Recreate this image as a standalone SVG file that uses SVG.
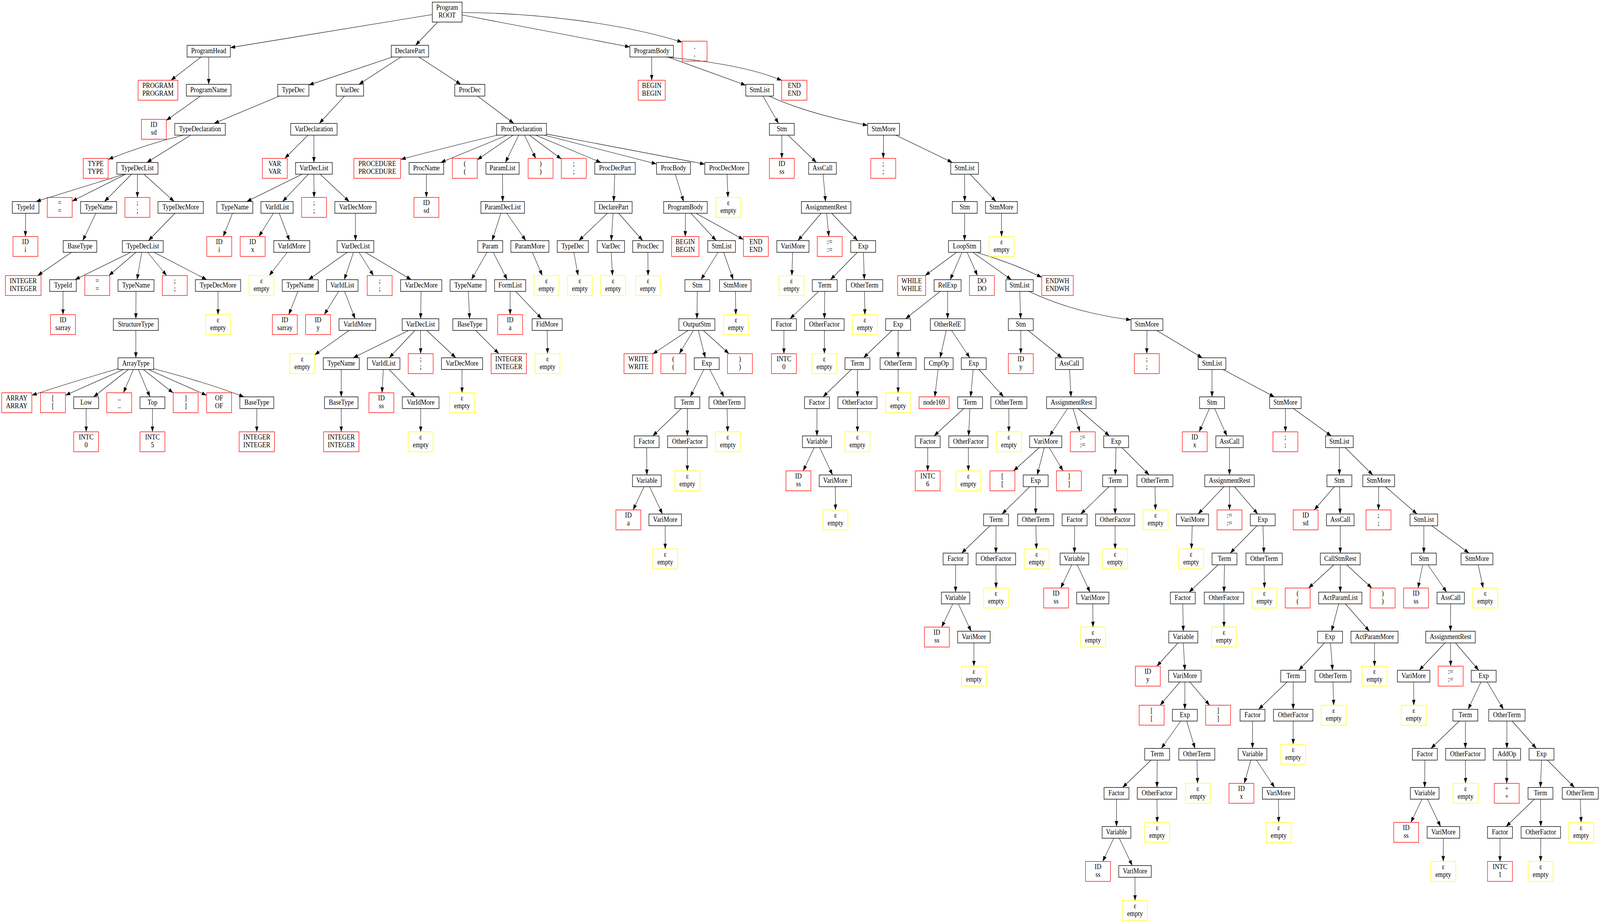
<svg xmlns="http://www.w3.org/2000/svg" width="4623" height="2363" viewBox="0 0 4623 2363" preserveAspectRatio="none">
<style>
svg{width:100vw;height:100vh;display:block}
rect{fill:none;stroke-width:1.4}
.b rect{stroke:#000}
.r rect{stroke:#f00}
.y rect{stroke:#ff0}
text{font-family:"Liberation Serif","Times New Roman",serif;font-size:18.3px;text-anchor:middle;fill:#000}
#edges path{stroke:#000;stroke-width:1.1;fill:none;marker-end:url(#ah)}
</style>
<defs><marker id="ah" markerUnits="userSpaceOnUse" markerWidth="15" markerHeight="11" refX="14" refY="5" orient="auto"><path d="M0,0 L14,5 L0,10 z" fill="#000"/></marker></defs>
<g id="edges">
<path d="M1249,37.2 L665.5,121.9"/>
<path d="M1264.6,56.5 L1200.6,116"/>
<path d="M1335,38.3 L1820,120.3"/>
<path d="M1335,32 C1550,33 1800,60 1971,108"/>
<path d="M581,146 L493.9,205.5"/>
<path d="M603,146 L603,216"/>
<path d="M1133.9,146 L892.5,217.6"/>
<path d="M1158.5,146 L1037,216"/>
<path d="M1210.5,146 L1331.5,216"/>
<path d="M1883,146 L1883,205.5"/>
<path d="M1929.8,146 L2155,218.2"/>
<path d="M1925,146 Q2150,165 2259,206"/>
<path d="M579.2,246 L480.5,308.3"/>
<path d="M807.1,246 L618.4,316"/>
<path d="M995.4,246 L922.6,316"/>
<path d="M1379.9,246 L1484.6,316"/>
<path d="M2204.6,246 L2249.4,316"/>
<path d="M2222,246 Q2330,290 2507,321"/>
<path d="M530,346 Q420,370 313,408"/>
<path d="M550.8,346 L424.2,416"/>
<path d="M890,346 L822.8,405.5"/>
<path d="M907,346 L907,416"/>
<path d="M1437,346 Q1300,375 1158,408"/>
<path d="M1465.8,346 L1273.3,416"/>
<path d="M1482.4,346 L1379,409"/>
<path d="M1498.8,346 L1460.3,416"/>
<path d="M1515.3,346 L1548,405.5"/>
<path d="M1529.7,346 L1622,407.2"/>
<path d="M1547.5,346 L1736.5,416"/>
<path d="M1572.9,346 L1897,419.8"/>
<path d="M1579,343.1 L2036.5,420.3"/>
<path d="M2259,346 L2259,405.5"/>
<path d="M2276.6,346 L2358.9,416"/>
<path d="M2553,346 L2552,405.5"/>
<path d="M2588.1,346 L2751.9,416"/>
<path d="M359,446 Q200,490 104,516"/>
<path d="M363.3,446 L208.5,515"/>
<path d="M380.2,446 L301.8,516"/>
<path d="M397,446 L397,505.5"/>
<path d="M415.8,446 L503.3,516"/>
<path d="M872.7,446 L712.8,516"/>
<path d="M891,446 L816.5,516"/>
<path d="M907,446 L907.5,505.5"/>
<path d="M925,446 L1009,516"/>
<path d="M1232,446 L1232,505.5"/>
<path d="M1452,446 L1452.5,516"/>
<path d="M1776.3,446 L1773.2,516"/>
<path d="M1951.2,446 L1975.3,516"/>
<path d="M2100.7,446 L2103.4,505.5"/>
<path d="M2378.1,446 L2385.4,516"/>
<path d="M2787,446 L2787.5,516"/>
<path d="M2803,446 L2877.5,516"/>
<path d="M74,546 L73.5,605.5"/>
<path d="M276.9,546 L239.1,616"/>
<path d="M505.6,546 L428.9,616"/>
<path d="M671.8,546 L645,605.5"/>
<path d="M789.9,546 L748,605.5"/>
<path d="M806.9,546 L836.6,616"/>
<path d="M1027,546 L1027,616"/>
<path d="M1447.1,546 L1421.9,616"/>
<path d="M1464.3,546 L1519.2,616"/>
<path d="M1754.9,546 L1672.6,616"/>
<path d="M1771.4,546 L1766.1,616"/>
<path d="M1787.4,546 L1857.1,616"/>
<path d="M1980.5,546 L1980,605.5"/>
<path d="M1996.2,546 L2069.3,616"/>
<path d="M2011,546 L2148,613.3"/>
<path d="M2372.6,546 L2305.4,616"/>
<path d="M2388.6,546 L2394.8,605.5"/>
<path d="M2403,546 L2478,616"/>
<path d="M2787.5,546 L2787,616"/>
<path d="M2893.5,546 L2894,605.5"/>
<path d="M206.4,646 L108.8,705.5"/>
<path d="M377.9,646 L216.6,716"/>
<path d="M392.8,646 L314.5,705.5"/>
<path d="M409.6,646 L395.9,716"/>
<path d="M426.4,646 L481.4,705.5"/>
<path d="M445.1,646 L597.4,716"/>
<path d="M829.9,646 L777.8,705.5"/>
<path d="M1003.1,646 L891.4,716"/>
<path d="M1021.3,646 L994.7,716"/>
<path d="M1037.5,646 L1079.2,705.5"/>
<path d="M1055.5,646 L1188.5,716"/>
<path d="M1406.9,646 L1362.1,716"/>
<path d="M1425.1,646 L1465.4,716"/>
<path d="M1538.2,646 L1566.8,705.5"/>
<path d="M1658.1,646 L1670.3,705.5"/>
<path d="M1766,646 L1769.8,705.5"/>
<path d="M1872,646 L1872.5,705.5"/>
<path d="M2074.5,646 L2025.5,716"/>
<path d="M2090.9,646 L2118.6,716"/>
<path d="M2290.4,646 L2288,705.5"/>
<path d="M2477.4,646 L2399.7,716"/>
<path d="M2494.6,646 L2497.4,716"/>
<path d="M2764,646 L2673,705.5"/>
<path d="M2779.7,646 L2745.4,716"/>
<path d="M2794.5,646 L2824.3,705.5"/>
<path d="M2810.9,646 L2922.2,716"/>
<path d="M2821,646 Q2930,675 3010,710"/>
<path d="M182,746 L182,805.5"/>
<path d="M393,746 L392.5,816"/>
<path d="M630,746 L630,805.5"/>
<path d="M860.8,746 L834.3,805.5"/>
<path d="M978.5,746 L936.9,805.5"/>
<path d="M995.5,746 L1026,816"/>
<path d="M1216.7,746 L1215.3,816"/>
<path d="M1353.3,746 L1356.8,816"/>
<path d="M1474,746 L1474,805.5"/>
<path d="M1490,746 L1565,816"/>
<path d="M2014.8,746 L2013.7,816"/>
<path d="M2124.8,746 L2126,805.5"/>
<path d="M2365.3,746 L2282.7,816"/>
<path d="M2383,746 L2382,816"/>
<path d="M2498,746 L2499,805.5"/>
<path d="M2716.6,746 L2616.5,816"/>
<path d="M2738,746 L2738,816"/>
<path d="M2946.5,746 L2949,816"/>
<path d="M2973,746 Q3100,800 3268,819"/>
<path d="M392.5,846 L392.5,916"/>
<path d="M1008.7,846 L909.5,908.4"/>
<path d="M1180.6,846 L1020.4,916"/>
<path d="M1199,846 L1124.5,916"/>
<path d="M1215,846 L1215.5,905.5"/>
<path d="M1233,846 L1317,916"/>
<path d="M1374.4,846 L1441.3,905.5"/>
<path d="M1581,846 L1582,905.5"/>
<path d="M1988.2,846 L1886,906.4"/>
<path d="M2003.3,846 L1962.8,905.5"/>
<path d="M2017.8,846 L2037.7,916"/>
<path d="M2032.2,846 L2106.3,905.5"/>
<path d="M2265,846 L2265,905.5"/>
<path d="M2382,846 L2382,905.5"/>
<path d="M2577.4,846 L2495.1,916"/>
<path d="M2595,846 L2595,916"/>
<path d="M2734.2,846 L2716.3,916"/>
<path d="M2749.3,846 L2802.2,916"/>
<path d="M2949.5,846 L2949.5,905.5"/>
<path d="M2970.5,846 L3068.5,916"/>
<path d="M3314,846 L3313.5,905.5"/>
<path d="M3342.2,846 L3473.8,916"/>
<path d="M341,944 Q200,980 92,1012"/>
<path d="M356.6,946 L189,1012"/>
<path d="M371,946 L270.5,1016"/>
<path d="M385.3,946 L356.7,1005.5"/>
<path d="M399.7,946 L433.3,1016"/>
<path d="M414.1,946 L500.5,1006"/>
<path d="M428.6,946 L597,1012"/>
<path d="M444,944 Q600,980 705,1016"/>
<path d="M986,946 L986,1016"/>
<path d="M1107.5,946 L1103.7,1005.5"/>
<path d="M1124.6,946 L1199.5,1016"/>
<path d="M1335,946 L1335,1005.5"/>
<path d="M2033.6,946 L1994.4,1016"/>
<path d="M2050.8,946 L2091.7,1016"/>
<path d="M2460,946 L2378,1016"/>
<path d="M2477.5,946 L2477.5,1016"/>
<path d="M2595,946 L2595,1005.5"/>
<path d="M2710.5,946 L2701,1016"/>
<path d="M2811.9,946 L2804.6,1016"/>
<path d="M2828.7,946 L2899.8,1016"/>
<path d="M3090.4,946 L3094.6,1016"/>
<path d="M3502,946 L3502,1016"/>
<path d="M3533.8,946 L3682.2,1016"/>
<path d="M249,1046 L249,1105.5"/>
<path d="M440.5,1046 L440.5,1105.5"/>
<path d="M742,1046 L742,1105.5"/>
<path d="M986,1046 L986,1105.5"/>
<path d="M1215.5,1046 L1215.5,1105.5"/>
<path d="M1968.4,1046 L1886.1,1116"/>
<path d="M1986,1046 L1986,1116"/>
<path d="M2100.9,1046 L2102.4,1105.5"/>
<path d="M2360.5,1046 L2360.5,1116"/>
<path d="M2477.5,1046 L2477.5,1105.5"/>
<path d="M2784.6,1046 L2698.9,1116"/>
<path d="M2802.3,1046 L2798.8,1116"/>
<path d="M2915,1046 L2915,1105.5"/>
<path d="M3084.4,1046 L3032.6,1116"/>
<path d="M3100.5,1046 L3120.1,1105.5"/>
<path d="M3114.9,1046 L3205.6,1116"/>
<path d="M3494.5,1046 L3464.8,1105.5"/>
<path d="M3509.6,1046 L3544.9,1116"/>
<path d="M3714,1046 L3714,1105.5"/>
<path d="M3737.4,1046 L3846.6,1116"/>
<path d="M1868.5,1146 L1869,1216"/>
<path d="M1986,1146 L1986,1205.5"/>
<path d="M2352.5,1146 L2320.6,1205.5"/>
<path d="M2368.5,1146 L2405.5,1216"/>
<path d="M2680.5,1146 L2680.5,1205.5"/>
<path d="M2798,1146 L2798,1205.5"/>
<path d="M3002.8,1146 L2928.4,1205.5"/>
<path d="M3017.2,1146 L2996.9,1216"/>
<path d="M3031.6,1146 L3071.4,1205.5"/>
<path d="M3224.6,1146 L3222.5,1216"/>
<path d="M3241.8,1146 L3320.2,1216"/>
<path d="M3552.5,1146 L3552.5,1216"/>
<path d="M3870,1146 L3870,1216"/>
<path d="M3887,1146 L3966.5,1216"/>
<path d="M1861,1246 L1829.1,1305.5"/>
<path d="M1877,1246 L1914,1316"/>
<path d="M2413.5,1246 L2414,1305.5"/>
<path d="M2975.3,1246 L2895.2,1316"/>
<path d="M2992.5,1246 L2992.5,1316"/>
<path d="M3204.5,1246 L3122.6,1316"/>
<path d="M3222,1246 L3222,1316"/>
<path d="M3337.3,1246 L3338.5,1305.5"/>
<path d="M3536.5,1246 L3461.6,1316"/>
<path d="M3552.5,1246 L3552.5,1305.5"/>
<path d="M3566.9,1246 L3634.1,1316"/>
<path d="M3855.4,1246 L3797.4,1305.5"/>
<path d="M3870.4,1246 L3872.1,1316"/>
<path d="M3983.5,1246 L3983,1305.5"/>
<path d="M4003.1,1246 L4094.4,1316"/>
<path d="M1922,1346 L1922,1405.5"/>
<path d="M2860.5,1346 L2778.6,1416"/>
<path d="M2878,1346 L2877.5,1416"/>
<path d="M2993,1346 L2994.7,1405.5"/>
<path d="M3105,1346 L3104.5,1416"/>
<path d="M3222,1346 L3222,1405.5"/>
<path d="M3444.9,1346 L3442.5,1405.5"/>
<path d="M3631.9,1346 L3554.6,1416"/>
<path d="M3649.1,1346 L3651.9,1416"/>
<path d="M3872.5,1346 L3872.5,1416"/>
<path d="M4114,1346 L4114,1416"/>
<path d="M4137,1346 L4244.5,1416"/>
<path d="M2761,1446 L2761,1516"/>
<path d="M2877.5,1446 L2878,1505.5"/>
<path d="M3096.5,1446 L3065,1505.5"/>
<path d="M3112.5,1446 L3149.5,1516"/>
<path d="M3519.9,1446 L3435.6,1516"/>
<path d="M3538,1446 L3536.5,1516"/>
<path d="M3652.5,1446 L3653.5,1505.5"/>
<path d="M3854.1,1446 L3780.9,1505.5"/>
<path d="M3872.5,1446 L3872.5,1516"/>
<path d="M3890.9,1446 L3963.8,1505.5"/>
<path d="M4110.6,1446 L4097.2,1505.5"/>
<path d="M4125.6,1446 L4179.9,1516"/>
<path d="M4271.1,1446 L4285.4,1505.5"/>
<path d="M2752.9,1546 L2720.8,1605.5"/>
<path d="M2769,1546 L2806,1616"/>
<path d="M3157.5,1546 L3158,1605.5"/>
<path d="M3417.5,1546 L3419,1616"/>
<path d="M3536.5,1546 L3536.5,1605.5"/>
<path d="M3868.1,1546 L3847.4,1616"/>
<path d="M3887.4,1546 L3956.7,1616"/>
<path d="M4191.5,1546 L4191,1616"/>
<path d="M2814,1646 L2814,1705.5"/>
<path d="M3403.6,1646 L3342.6,1705.5"/>
<path d="M3419,1646 L3423.5,1716"/>
<path d="M3827,1646 L3752.5,1716"/>
<path d="M3844.3,1646 L3850.2,1716"/>
<path d="M3971.5,1646 L3971.5,1705.5"/>
<path d="M4175,1646 L4100.5,1716"/>
<path d="M4191,1646 L4191.5,1705.5"/>
<path d="M4205.4,1646 L4272.6,1716"/>
<path d="M3409.1,1746 L3352,1805.5"/>
<path d="M3423.5,1746 L3423.5,1816"/>
<path d="M3437.9,1746 L3495,1805.5"/>
<path d="M3718.9,1746 L3636.6,1816"/>
<path d="M3736.5,1746 L3736.5,1816"/>
<path d="M3851.5,1746 L3853.5,1805.5"/>
<path d="M4084.5,1746 L4085,1805.5"/>
<path d="M4279,1746 L4242,1816"/>
<path d="M4297,1746 L4344,1816"/>
<path d="M3411.5,1846 L3355.5,1916"/>
<path d="M3428.7,1846 L3452.8,1916"/>
<path d="M3619,1846 L3619,1916"/>
<path d="M3736.5,1846 L3736.5,1905.5"/>
<path d="M4216.5,1846 L4134.6,1916"/>
<path d="M4234,1846 L4234,1916"/>
<path d="M4354,1846 L4354,1916"/>
<path d="M4369,1846 L4439,1916"/>
<path d="M3325.9,1946 L3243.6,2016"/>
<path d="M3343.5,1946 L3343,2016"/>
<path d="M3458.5,1946 L3460.2,2005.5"/>
<path d="M3614.2,1946 L3595.2,2005.5"/>
<path d="M3630.3,1946 L3682.8,2016"/>
<path d="M4117,1946 L4116.5,2016"/>
<path d="M4234,1946 L4234.5,2005.5"/>
<path d="M4354,1946 L4353.5,2005.5"/>
<path d="M4454,1946 L4451,2016"/>
<path d="M4470.8,1946 L4549.2,2016"/>
<path d="M3226,2046 L3226,2116"/>
<path d="M3343,2046 L3343.5,2105.5"/>
<path d="M3694,2046 L3694.5,2105.5"/>
<path d="M4108.5,2046 L4076.6,2105.5"/>
<path d="M4124.6,2046 L4162.4,2116"/>
<path d="M4433.5,2046 L4351.6,2116"/>
<path d="M4451,2046 L4452,2116"/>
<path d="M4566,2046 L4568.5,2105.5"/>
<path d="M3218,2146 L3186.1,2205.5"/>
<path d="M3234,2146 L3271.5,2216"/>
<path d="M4170.5,2146 L4170,2205.5"/>
<path d="M4334,2146 L4334,2205.5"/>
<path d="M4452,2146 L4451.5,2205.5"/>
<path d="M3279.5,2246 L3279.5,2305.5"/>
</g>
<g id="nodes">
<g id="n0" class="b"><rect x="1249" y="5.5" width="86" height="51"/><text x="1292" y="25.5">Program<tspan x="1292" dy="20">ROOT</tspan></text></g>
<g id="n1" class="b"><rect x="540.5" y="116" width="125" height="30"/><text x="603" y="136">ProgramHead</text></g>
<g id="n2" class="b"><rect x="1130.5" y="116" width="108" height="30"/><text x="1184.5" y="136">DeclarePart</text></g>
<g id="n3" class="b"><rect x="1820" y="116" width="126" height="30"/><text x="1883" y="136">ProgramBody</text></g>
<g id="n4" class="r"><rect x="1971" y="105.5" width="72" height="51"/><text x="2007" y="125.5">.<tspan x="2007" dy="20">.</tspan></text></g>
<g id="n5" class="r"><rect x="399" y="205.5" width="115" height="51"/><text x="456.5" y="225.5">PROGRAM<tspan x="456.5" dy="20">PROGRAM</tspan></text></g>
<g id="n6" class="b"><rect x="538.5" y="216" width="129" height="30"/><text x="603" y="236">ProgramName</text></g>
<g id="n7" class="b"><rect x="802.5" y="216" width="90" height="30"/><text x="847.5" y="236">TypeDec</text></g>
<g id="n8" class="b"><rect x="971.5" y="216" width="79" height="30"/><text x="1011" y="236">VarDec</text></g>
<g id="n9" class="b"><rect x="1314" y="216" width="87" height="30"/><text x="1357.5" y="236">ProcDec</text></g>
<g id="n10" class="r"><rect x="1844" y="205.5" width="78" height="51"/><text x="1883" y="225.5">BEGIN<tspan x="1883" dy="20">BEGIN</tspan></text></g>
<g id="n11" class="b"><rect x="2155" y="216" width="80" height="30"/><text x="2195" y="236">StmList</text></g>
<g id="n12" class="r"><rect x="2258.5" y="205.5" width="73" height="51"/><text x="2295" y="225.5">END<tspan x="2295" dy="20">END</tspan></text></g>
<g id="n13" class="r"><rect x="408.5" y="305.5" width="72" height="51"/><text x="444.5" y="325.5">ID<tspan x="444.5" dy="20">sd</tspan></text></g>
<g id="n14" class="b"><rect x="505" y="316" width="146" height="30"/><text x="578" y="336">TypeDeclaration</text></g>
<g id="n15" class="b"><rect x="840" y="316" width="134" height="30"/><text x="907" y="336">VarDeclaration</text></g>
<g id="n16" class="b"><rect x="1435" y="316" width="144" height="30"/><text x="1507" y="336">ProcDeclaration</text></g>
<g id="n17" class="b"><rect x="2223" y="316" width="72" height="30"/><text x="2259" y="336">Stm</text></g>
<g id="n18" class="b"><rect x="2507" y="316" width="92" height="30"/><text x="2553" y="336">StmMore</text></g>
<g id="n19" class="r"><rect x="240.5" y="405.5" width="72" height="51"/><text x="276.5" y="425.5">TYPE<tspan x="276.5" dy="20">TYPE</tspan></text></g>
<g id="n20" class="b"><rect x="337.5" y="416" width="119" height="30"/><text x="397" y="436">TypeDecList</text></g>
<g id="n21" class="r"><rect x="758" y="405.5" width="72" height="51"/><text x="794" y="425.5">VAR<tspan x="794" dy="20">VAR</tspan></text></g>
<g id="n22" class="b"><rect x="854" y="416" width="106" height="30"/><text x="907" y="436">VarDecList</text></g>
<g id="n23" class="r"><rect x="1022.5" y="405.5" width="135" height="51"/><text x="1090" y="425.5">PROCEDURE<tspan x="1090" dy="20">PROCEDURE</tspan></text></g>
<g id="n24" class="b"><rect x="1182" y="416" width="100" height="30"/><text x="1232" y="436">ProcName</text></g>
<g id="n25" class="r"><rect x="1307" y="405.5" width="72" height="51"/><text x="1343" y="425.5">(<tspan x="1343" dy="20">(</tspan></text></g>
<g id="n26" class="b"><rect x="1404" y="416" width="96" height="30"/><text x="1452" y="436">ParamList</text></g>
<g id="n27" class="r"><rect x="1526" y="405.5" width="72" height="51"/><text x="1562" y="425.5">)<tspan x="1562" dy="20">)</tspan></text></g>
<g id="n28" class="r"><rect x="1622" y="405.5" width="72" height="51"/><text x="1658" y="425.5">;<tspan x="1658" dy="20">;</tspan></text></g>
<g id="n29" class="b"><rect x="1718.5" y="416" width="117" height="30"/><text x="1777" y="436">ProcDecPart</text></g>
<g id="n30" class="b"><rect x="1897" y="416" width="98" height="30"/><text x="1946" y="436">ProcBody</text></g>
<g id="n31" class="b"><rect x="2036.5" y="416" width="127" height="30"/><text x="2100" y="436">ProcDecMore</text></g>
<g id="n32" class="r"><rect x="2223" y="405.5" width="72" height="51"/><text x="2259" y="425.5">ID<tspan x="2259" dy="20">ss</tspan></text></g>
<g id="n33" class="b"><rect x="2336.5" y="416" width="80" height="30"/><text x="2376.5" y="436">AssCall</text></g>
<g id="n34" class="r"><rect x="2516" y="405.5" width="72" height="51"/><text x="2552" y="425.5">;<tspan x="2552" dy="20">;</tspan></text></g>
<g id="n35" class="b"><rect x="2747" y="416" width="80" height="30"/><text x="2787" y="436">StmList</text></g>
<g id="n36" class="b"><rect x="35.5" y="516" width="77" height="30"/><text x="74" y="536">TypeId</text></g>
<g id="n37" class="r"><rect x="136.5" y="505.5" width="72" height="51"/><text x="172.5" y="525.5">=<tspan x="172.5" dy="20">=</tspan></text></g>
<g id="n38" class="b"><rect x="233" y="516" width="104" height="30"/><text x="285" y="536">TypeName</text></g>
<g id="n39" class="r"><rect x="361" y="505.5" width="72" height="51"/><text x="397" y="525.5">;<tspan x="397" dy="20">;</tspan></text></g>
<g id="n40" class="b"><rect x="456.5" y="516" width="131" height="30"/><text x="522" y="536">TypeDecMore</text></g>
<g id="n41" class="b"><rect x="626.5" y="516" width="104" height="30"/><text x="678.5" y="536">TypeName</text></g>
<g id="n42" class="b"><rect x="754" y="516" width="93" height="30"/><text x="800.5" y="536">VarIdList</text></g>
<g id="n43" class="r"><rect x="871.5" y="505.5" width="72" height="51"/><text x="907.5" y="525.5">;<tspan x="907.5" dy="20">;</tspan></text></g>
<g id="n44" class="b"><rect x="967.5" y="516" width="119" height="30"/><text x="1027" y="536">VarDecMore</text></g>
<g id="n45" class="r"><rect x="1196" y="505.5" width="72" height="51"/><text x="1232" y="525.5">ID<tspan x="1232" dy="20">sd</tspan></text></g>
<g id="n46" class="b"><rect x="1389.5" y="516" width="126" height="30"/><text x="1452.5" y="536">ParamDecList</text></g>
<g id="n47" class="b"><rect x="1718.5" y="516" width="108" height="30"/><text x="1772.5" y="536">DeclarePart</text></g>
<g id="n48" class="b"><rect x="1917.5" y="516" width="126" height="30"/><text x="1980.5" y="536">ProgramBody</text></g>
<g id="n49" class="y"><rect x="2068.5" y="505.5" width="72" height="51"/><text x="2104.5" y="525.5">ε<tspan x="2104.5" dy="20">empty</tspan></text></g>
<g id="n50" class="b"><rect x="2315.5" y="516" width="143" height="30"/><text x="2387" y="536">AssignmentRest</text></g>
<g id="n51" class="b"><rect x="2751.5" y="516" width="72" height="30"/><text x="2787.5" y="536">Stm</text></g>
<g id="n52" class="b"><rect x="2847.5" y="516" width="92" height="30"/><text x="2893.5" y="536">StmMore</text></g>
<g id="n53" class="r"><rect x="37.5" y="605.5" width="72" height="51"/><text x="73.5" y="625.5">ID<tspan x="73.5" dy="20">i</tspan></text></g>
<g id="n54" class="b"><rect x="182.5" y="616" width="97" height="30"/><text x="231" y="636">BaseType</text></g>
<g id="n55" class="b"><rect x="353.5" y="616" width="118" height="30"/><text x="412.5" y="636">TypeDecList</text></g>
<g id="n56" class="r"><rect x="597.5" y="605.5" width="72" height="51"/><text x="633.5" y="625.5">ID<tspan x="633.5" dy="20">i</tspan></text></g>
<g id="n57" class="r"><rect x="694" y="605.5" width="72" height="51"/><text x="730" y="625.5">ID<tspan x="730" dy="20">x</tspan></text></g>
<g id="n58" class="b"><rect x="791" y="616" width="104" height="30"/><text x="843" y="636">VarIdMore</text></g>
<g id="n59" class="b"><rect x="974" y="616" width="106" height="30"/><text x="1027" y="636">VarDecList</text></g>
<g id="n60" class="b"><rect x="1380.5" y="616" width="72" height="30"/><text x="1416.5" y="636">Param</text></g>
<g id="n61" class="b"><rect x="1476" y="616" width="110" height="30"/><text x="1531" y="636">ParamMore</text></g>
<g id="n62" class="b"><rect x="1610" y="616" width="90" height="30"/><text x="1655" y="636">TypeDec</text></g>
<g id="n63" class="b"><rect x="1725.5" y="616" width="79" height="30"/><text x="1765" y="636">VarDec</text></g>
<g id="n64" class="b"><rect x="1828" y="616" width="88" height="30"/><text x="1872" y="636">ProcDec</text></g>
<g id="n65" class="r"><rect x="1940.5" y="605.5" width="79" height="51"/><text x="1980" y="625.5">BEGIN<tspan x="1980" dy="20">BEGIN</tspan></text></g>
<g id="n66" class="b"><rect x="2045" y="616" width="80" height="30"/><text x="2085" y="636">StmList</text></g>
<g id="n67" class="r"><rect x="2148" y="605.5" width="72" height="51"/><text x="2184" y="625.5">END<tspan x="2184" dy="20">END</tspan></text></g>
<g id="n68" class="b"><rect x="2244.5" y="616" width="93" height="30"/><text x="2291" y="636">VariMore</text></g>
<g id="n69" class="r"><rect x="2361.5" y="605.5" width="72" height="51"/><text x="2397.5" y="625.5">:=<tspan x="2397.5" dy="20">:=</tspan></text></g>
<g id="n70" class="b"><rect x="2458" y="616" width="72" height="30"/><text x="2494" y="636">Exp</text></g>
<g id="n71" class="b"><rect x="2740.5" y="616" width="93" height="30"/><text x="2787" y="636">LoopStm</text></g>
<g id="n72" class="y"><rect x="2858" y="605.5" width="72" height="51"/><text x="2894" y="625.5">ε<tspan x="2894" dy="20">empty</tspan></text></g>
<g id="n73" class="r"><rect x="15.5" y="705.5" width="103" height="51"/><text x="67" y="725.5">INTEGER<tspan x="67" dy="20">INTEGER</tspan></text></g>
<g id="n74" class="b"><rect x="143.5" y="716" width="77" height="30"/><text x="182" y="736">TypeId</text></g>
<g id="n75" class="r"><rect x="245" y="705.5" width="72" height="51"/><text x="281" y="725.5">=<tspan x="281" dy="20">=</tspan></text></g>
<g id="n76" class="b"><rect x="341" y="716" width="104" height="30"/><text x="393" y="736">TypeName</text></g>
<g id="n77" class="r"><rect x="469" y="705.5" width="72" height="51"/><text x="505" y="725.5">;<tspan x="505" dy="20">;</tspan></text></g>
<g id="n78" class="b"><rect x="564.5" y="716" width="131" height="30"/><text x="630" y="736">TypeDecMore</text></g>
<g id="n79" class="y"><rect x="719.5" y="705.5" width="72" height="51"/><text x="755.5" y="725.5">ε<tspan x="755.5" dy="20">empty</tspan></text></g>
<g id="n80" class="b"><rect x="815.5" y="716" width="104" height="30"/><text x="867.5" y="736">TypeName</text></g>
<g id="n81" class="b"><rect x="943.5" y="716" width="91" height="30"/><text x="989" y="736">VarIdList</text></g>
<g id="n82" class="r"><rect x="1061" y="705.5" width="72" height="51"/><text x="1097" y="725.5">;<tspan x="1097" dy="20">;</tspan></text></g>
<g id="n83" class="b"><rect x="1157.5" y="716" width="119" height="30"/><text x="1217" y="736">VarDecMore</text></g>
<g id="n84" class="b"><rect x="1300.5" y="716" width="104" height="30"/><text x="1352.5" y="736">TypeName</text></g>
<g id="n85" class="b"><rect x="1429" y="716" width="90" height="30"/><text x="1474" y="736">FormList</text></g>
<g id="n86" class="y"><rect x="1543" y="705.5" width="72" height="51"/><text x="1579" y="725.5">ε<tspan x="1579" dy="20">empty</tspan></text></g>
<g id="n87" class="y"><rect x="1639.5" y="705.5" width="72" height="51"/><text x="1675.5" y="725.5">ε<tspan x="1675.5" dy="20">empty</tspan></text></g>
<g id="n88" class="y"><rect x="1735.5" y="705.5" width="72" height="51"/><text x="1771.5" y="725.5">ε<tspan x="1771.5" dy="20">empty</tspan></text></g>
<g id="n89" class="y"><rect x="1836.5" y="705.5" width="72" height="51"/><text x="1872.5" y="725.5">ε<tspan x="1872.5" dy="20">empty</tspan></text></g>
<g id="n90" class="b"><rect x="1979" y="716" width="72" height="30"/><text x="2015" y="736">Stm</text></g>
<g id="n91" class="b"><rect x="2079" y="716" width="91" height="30"/><text x="2124.5" y="736">StmMore</text></g>
<g id="n92" class="y"><rect x="2251" y="705.5" width="72" height="51"/><text x="2287" y="725.5">ε<tspan x="2287" dy="20">empty</tspan></text></g>
<g id="n93" class="b"><rect x="2347" y="716" width="72" height="30"/><text x="2383" y="736">Term</text></g>
<g id="n94" class="b"><rect x="2445.5" y="716" width="105" height="30"/><text x="2498" y="736">OtherTerm</text></g>
<g id="n95" class="r"><rect x="2593.5" y="705.5" width="81" height="51"/><text x="2634" y="725.5">WHILE<tspan x="2634" dy="20">WHILE</tspan></text></g>
<g id="n96" class="b"><rect x="2699" y="716" width="78" height="30"/><text x="2738" y="736">RelExp</text></g>
<g id="n97" class="r"><rect x="2801" y="705.5" width="72" height="51"/><text x="2837" y="725.5">DO<tspan x="2837" dy="20">DO</tspan></text></g>
<g id="n98" class="b"><rect x="2906.5" y="716" width="79" height="30"/><text x="2946" y="736">StmList</text></g>
<g id="n99" class="r"><rect x="3010" y="705.5" width="91" height="51"/><text x="3055.5" y="725.5">ENDWH<tspan x="3055.5" dy="20">ENDWH</tspan></text></g>
<g id="n100" class="r"><rect x="146" y="805.5" width="72" height="51"/><text x="182" y="825.5">ID<tspan x="182" dy="20">sarray</tspan></text></g>
<g id="n101" class="b"><rect x="327.5" y="816" width="130" height="30"/><text x="392.5" y="836">StructureType</text></g>
<g id="n102" class="y"><rect x="594" y="805.5" width="72" height="51"/><text x="630" y="825.5">ε<tspan x="630" dy="20">empty</tspan></text></g>
<g id="n103" class="r"><rect x="787" y="805.5" width="72" height="51"/><text x="823" y="825.5">ID<tspan x="823" dy="20">sarray</tspan></text></g>
<g id="n104" class="r"><rect x="883" y="805.5" width="72" height="51"/><text x="919" y="825.5">ID<tspan x="919" dy="20">y</tspan></text></g>
<g id="n105" class="b"><rect x="979.5" y="816" width="106" height="30"/><text x="1032.5" y="836">VarIdMore</text></g>
<g id="n106" class="b"><rect x="1162" y="816" width="106" height="30"/><text x="1215" y="836">VarDecList</text></g>
<g id="n107" class="b"><rect x="1308.5" y="816" width="98" height="30"/><text x="1357.5" y="836">BaseType</text></g>
<g id="n108" class="r"><rect x="1438" y="805.5" width="72" height="51"/><text x="1474" y="825.5">ID<tspan x="1474" dy="20">a</tspan></text></g>
<g id="n109" class="b"><rect x="1537.5" y="816" width="87" height="30"/><text x="1581" y="836">FidMore</text></g>
<g id="n110" class="b"><rect x="1961.5" y="816" width="104" height="30"/><text x="2013.5" y="836">OutputStm</text></g>
<g id="n111" class="y"><rect x="2090.5" y="805.5" width="72" height="51"/><text x="2126.5" y="825.5">ε<tspan x="2126.5" dy="20">empty</tspan></text></g>
<g id="n112" class="b"><rect x="2229" y="816" width="72" height="30"/><text x="2265" y="836">Factor</text></g>
<g id="n113" class="b"><rect x="2325" y="816" width="114" height="30"/><text x="2382" y="836">OtherFactor</text></g>
<g id="n114" class="y"><rect x="2463" y="805.5" width="72" height="51"/><text x="2499" y="825.5">ε<tspan x="2499" dy="20">empty</tspan></text></g>
<g id="n115" class="b"><rect x="2559" y="816" width="72" height="30"/><text x="2595" y="836">Exp</text></g>
<g id="n116" class="b"><rect x="2688" y="816" width="100" height="30"/><text x="2738" y="836">OtherRelE</text></g>
<g id="n117" class="b"><rect x="2913.5" y="816" width="72" height="30"/><text x="2949.5" y="836">Stm</text></g>
<g id="n118" class="b"><rect x="3268" y="816" width="92" height="30"/><text x="3314" y="836">StmMore</text></g>
<g id="n119" class="b"><rect x="341" y="916" width="103" height="30"/><text x="392.5" y="936">ArrayType</text></g>
<g id="n120" class="y"><rect x="837.5" y="905.5" width="72" height="51"/><text x="873.5" y="925.5">ε<tspan x="873.5" dy="20">empty</tspan></text></g>
<g id="n121" class="b"><rect x="934" y="916" width="104" height="30"/><text x="986" y="936">TypeName</text></g>
<g id="n122" class="b"><rect x="1061.5" y="916" width="94" height="30"/><text x="1108.5" y="936">VarIdList</text></g>
<g id="n123" class="r"><rect x="1179.5" y="905.5" width="72" height="51"/><text x="1215.5" y="925.5">;<tspan x="1215.5" dy="20">;</tspan></text></g>
<g id="n124" class="b"><rect x="1275.5" y="916" width="119" height="30"/><text x="1335" y="936">VarDecMore</text></g>
<g id="n125" class="r"><rect x="1419" y="905.5" width="102" height="51"/><text x="1470" y="925.5">INTEGER<tspan x="1470" dy="20">INTEGER</tspan></text></g>
<g id="n126" class="y"><rect x="1546" y="905.5" width="72" height="51"/><text x="1582" y="925.5">ε<tspan x="1582" dy="20">empty</tspan></text></g>
<g id="n127" class="r"><rect x="1803" y="905.5" width="83" height="51"/><text x="1844.5" y="925.5">WRITE<tspan x="1844.5" dy="20">WRITE</tspan></text></g>
<g id="n128" class="r"><rect x="1909.5" y="905.5" width="72" height="51"/><text x="1945.5" y="925.5">(<tspan x="1945.5" dy="20">(</tspan></text></g>
<g id="n129" class="b"><rect x="2006" y="916" width="72" height="30"/><text x="2042" y="936">Exp</text></g>
<g id="n130" class="r"><rect x="2102" y="905.5" width="72" height="51"/><text x="2138" y="925.5">)<tspan x="2138" dy="20">)</tspan></text></g>
<g id="n131" class="r"><rect x="2229" y="905.5" width="72" height="51"/><text x="2265" y="925.5">INTC<tspan x="2265" dy="20">0</tspan></text></g>
<g id="n132" class="y"><rect x="2346" y="905.5" width="72" height="51"/><text x="2382" y="925.5">ε<tspan x="2382" dy="20">empty</tspan></text></g>
<g id="n133" class="b"><rect x="2441.5" y="916" width="72" height="30"/><text x="2477.5" y="936">Term</text></g>
<g id="n134" class="b"><rect x="2543" y="916" width="104" height="30"/><text x="2595" y="936">OtherTerm</text></g>
<g id="n135" class="b"><rect x="2671" y="916" width="83" height="30"/><text x="2712.5" y="936">CmpOp</text></g>
<g id="n136" class="b"><rect x="2777.5" y="916" width="72" height="30"/><text x="2813.5" y="936">Exp</text></g>
<g id="n137" class="r"><rect x="2913.5" y="905.5" width="72" height="51"/><text x="2949.5" y="925.5">ID<tspan x="2949.5" dy="20">y</tspan></text></g>
<g id="n138" class="b"><rect x="3049.5" y="916" width="80" height="30"/><text x="3089.5" y="936">AssCall</text></g>
<g id="n139" class="r"><rect x="3277.5" y="905.5" width="72" height="51"/><text x="3313.5" y="925.5">;<tspan x="3313.5" dy="20">;</tspan></text></g>
<g id="n140" class="b"><rect x="3462" y="916" width="80" height="30"/><text x="3502" y="936">StmList</text></g>
<g id="n141" class="r"><rect x="5" y="1005.5" width="87" height="51"/><text x="48.5" y="1025.5">ARRAY<tspan x="48.5" dy="20">ARRAY</tspan></text></g>
<g id="n142" class="r"><rect x="117" y="1005.5" width="72" height="51"/><text x="153" y="1025.5">[<tspan x="153" dy="20">[</tspan></text></g>
<g id="n143" class="b"><rect x="213" y="1016" width="72" height="30"/><text x="249" y="1036">Low</text></g>
<g id="n144" class="r"><rect x="308.5" y="1005.5" width="72" height="51"/><text x="344.5" y="1025.5">..<tspan x="344.5" dy="20">..</tspan></text></g>
<g id="n145" class="b"><rect x="404.5" y="1016" width="72" height="30"/><text x="440.5" y="1036">Top</text></g>
<g id="n146" class="r"><rect x="500.5" y="1005.5" width="72" height="51"/><text x="536.5" y="1025.5">]<tspan x="536.5" dy="20">]</tspan></text></g>
<g id="n147" class="r"><rect x="597" y="1005.5" width="72" height="51"/><text x="633" y="1025.5">OF<tspan x="633" dy="20">OF</tspan></text></g>
<g id="n148" class="b"><rect x="693" y="1016" width="98" height="30"/><text x="742" y="1036">BaseType</text></g>
<g id="n149" class="b"><rect x="937.5" y="1016" width="97" height="30"/><text x="986" y="1036">BaseType</text></g>
<g id="n150" class="r"><rect x="1066" y="1005.5" width="72" height="51"/><text x="1102" y="1025.5">ID<tspan x="1102" dy="20">ss</tspan></text></g>
<g id="n151" class="b"><rect x="1162.5" y="1016" width="106" height="30"/><text x="1215.5" y="1036">VarIdMore</text></g>
<g id="n152" class="y"><rect x="1299" y="1005.5" width="72" height="51"/><text x="1335" y="1025.5">ε<tspan x="1335" dy="20">empty</tspan></text></g>
<g id="n153" class="b"><rect x="1950" y="1016" width="72" height="30"/><text x="1986" y="1036">Term</text></g>
<g id="n154" class="b"><rect x="2048.5" y="1016" width="104" height="30"/><text x="2100.5" y="1036">OtherTerm</text></g>
<g id="n155" class="b"><rect x="2324.5" y="1016" width="72" height="30"/><text x="2360.5" y="1036">Factor</text></g>
<g id="n156" class="b"><rect x="2421" y="1016" width="113" height="30"/><text x="2477.5" y="1036">OtherFactor</text></g>
<g id="n157" class="y"><rect x="2559" y="1005.5" width="72" height="51"/><text x="2595" y="1025.5">ε<tspan x="2595" dy="20">empty</tspan></text></g>
<g id="n158" class="r"><rect x="2655.5" y="1016" width="87" height="30"/><text x="2699" y="1036">node169</text></g>
<g id="n159" class="b"><rect x="2767" y="1016" width="72" height="30"/><text x="2803" y="1036">Term</text></g>
<g id="n160" class="b"><rect x="2863" y="1016" width="104" height="30"/><text x="2915" y="1036">OtherTerm</text></g>
<g id="n161" class="b"><rect x="3024" y="1016" width="143" height="30"/><text x="3095.5" y="1036">AssignmentRest</text></g>
<g id="n162" class="b"><rect x="3466" y="1016" width="72" height="30"/><text x="3502" y="1036">Stm</text></g>
<g id="n163" class="b"><rect x="3668.5" y="1016" width="91" height="30"/><text x="3714" y="1036">StmMore</text></g>
<g id="n164" class="r"><rect x="213" y="1105.5" width="72" height="51"/><text x="249" y="1125.5">INTC<tspan x="249" dy="20">0</tspan></text></g>
<g id="n165" class="r"><rect x="404.5" y="1105.5" width="72" height="51"/><text x="440.5" y="1125.5">INTC<tspan x="440.5" dy="20">5</tspan></text></g>
<g id="n166" class="r"><rect x="691" y="1105.5" width="102" height="51"/><text x="742" y="1125.5">INTEGER<tspan x="742" dy="20">INTEGER</tspan></text></g>
<g id="n167" class="r"><rect x="935" y="1105.5" width="102" height="51"/><text x="986" y="1125.5">INTEGER<tspan x="986" dy="20">INTEGER</tspan></text></g>
<g id="n168" class="y"><rect x="1179.5" y="1105.5" width="72" height="51"/><text x="1215.5" y="1125.5">ε<tspan x="1215.5" dy="20">empty</tspan></text></g>
<g id="n169" class="b"><rect x="1832.5" y="1116" width="72" height="30"/><text x="1868.5" y="1136">Factor</text></g>
<g id="n170" class="b"><rect x="1929" y="1116" width="114" height="30"/><text x="1986" y="1136">OtherFactor</text></g>
<g id="n171" class="y"><rect x="2067" y="1105.5" width="72" height="51"/><text x="2103" y="1125.5">ε<tspan x="2103" dy="20">empty</tspan></text></g>
<g id="n172" class="b"><rect x="2318.5" y="1116" width="84" height="30"/><text x="2360.5" y="1136">Variable</text></g>
<g id="n173" class="y"><rect x="2441.5" y="1105.5" width="72" height="51"/><text x="2477.5" y="1125.5">ε<tspan x="2477.5" dy="20">empty</tspan></text></g>
<g id="n174" class="b"><rect x="2644.5" y="1116" width="72" height="30"/><text x="2680.5" y="1136">Factor</text></g>
<g id="n175" class="b"><rect x="2741.5" y="1116" width="113" height="30"/><text x="2798" y="1136">OtherFactor</text></g>
<g id="n176" class="y"><rect x="2879" y="1105.5" width="72" height="51"/><text x="2915" y="1125.5">ε<tspan x="2915" dy="20">empty</tspan></text></g>
<g id="n177" class="b"><rect x="2975" y="1116" width="93" height="30"/><text x="3021.5" y="1136">VariMore</text></g>
<g id="n178" class="r"><rect x="3092.5" y="1105.5" width="72" height="51"/><text x="3128.5" y="1125.5">:=<tspan x="3128.5" dy="20">:=</tspan></text></g>
<g id="n179" class="b"><rect x="3189" y="1116" width="72" height="30"/><text x="3225" y="1136">Exp</text></g>
<g id="n180" class="r"><rect x="3416" y="1105.5" width="72" height="51"/><text x="3452" y="1125.5">ID<tspan x="3452" dy="20">x</tspan></text></g>
<g id="n181" class="b"><rect x="3513" y="1116" width="79" height="30"/><text x="3552.5" y="1136">AssCall</text></g>
<g id="n182" class="r"><rect x="3678" y="1105.5" width="72" height="51"/><text x="3714" y="1125.5">;<tspan x="3714" dy="20">;</tspan></text></g>
<g id="n183" class="b"><rect x="3830" y="1116" width="80" height="30"/><text x="3870" y="1136">StmList</text></g>
<g id="n184" class="b"><rect x="1827.5" y="1216" width="83" height="30"/><text x="1869" y="1236">Variable</text></g>
<g id="n185" class="y"><rect x="1950" y="1205.5" width="72" height="51"/><text x="1986" y="1225.5">ε<tspan x="1986" dy="20">empty</tspan></text></g>
<g id="n186" class="r"><rect x="2271" y="1205.5" width="72" height="51"/><text x="2307" y="1225.5">ID<tspan x="2307" dy="20">ss</tspan></text></g>
<g id="n187" class="b"><rect x="2367" y="1216" width="93" height="30"/><text x="2413.5" y="1236">VariMore</text></g>
<g id="n188" class="r"><rect x="2644.5" y="1205.5" width="72" height="51"/><text x="2680.5" y="1225.5">INTC<tspan x="2680.5" dy="20">6</tspan></text></g>
<g id="n189" class="y"><rect x="2762" y="1205.5" width="72" height="51"/><text x="2798" y="1225.5">ε<tspan x="2798" dy="20">empty</tspan></text></g>
<g id="n190" class="r"><rect x="2860.5" y="1205.5" width="72" height="51"/><text x="2896.5" y="1225.5">[<tspan x="2896.5" dy="20">[</tspan></text></g>
<g id="n191" class="b"><rect x="2956.5" y="1216" width="72" height="30"/><text x="2992.5" y="1236">Exp</text></g>
<g id="n192" class="r"><rect x="3052.5" y="1205.5" width="72" height="51"/><text x="3088.5" y="1225.5">]<tspan x="3088.5" dy="20">]</tspan></text></g>
<g id="n193" class="b"><rect x="3186" y="1216" width="72" height="30"/><text x="3222" y="1236">Term</text></g>
<g id="n194" class="b"><rect x="3285" y="1216" width="104" height="30"/><text x="3337" y="1236">OtherTerm</text></g>
<g id="n195" class="b"><rect x="3481" y="1216" width="143" height="30"/><text x="3552.5" y="1236">AssignmentRest</text></g>
<g id="n196" class="b"><rect x="3834" y="1216" width="72" height="30"/><text x="3870" y="1236">Stm</text></g>
<g id="n197" class="b"><rect x="3937.5" y="1216" width="92" height="30"/><text x="3983.5" y="1236">StmMore</text></g>
<g id="n198" class="r"><rect x="1779.5" y="1305.5" width="72" height="51"/><text x="1815.5" y="1325.5">ID<tspan x="1815.5" dy="20">a</tspan></text></g>
<g id="n199" class="b"><rect x="1875" y="1316" width="94" height="30"/><text x="1922" y="1336">VariMore</text></g>
<g id="n200" class="y"><rect x="2378" y="1305.5" width="72" height="51"/><text x="2414" y="1325.5">ε<tspan x="2414" dy="20">empty</tspan></text></g>
<g id="n201" class="b"><rect x="2842" y="1316" width="72" height="30"/><text x="2878" y="1336">Term</text></g>
<g id="n202" class="b"><rect x="2940.5" y="1316" width="104" height="30"/><text x="2992.5" y="1336">OtherTerm</text></g>
<g id="n203" class="b"><rect x="3069" y="1316" width="72" height="30"/><text x="3105" y="1336">Factor</text></g>
<g id="n204" class="b"><rect x="3165.5" y="1316" width="113" height="30"/><text x="3222" y="1336">OtherFactor</text></g>
<g id="n205" class="y"><rect x="3303" y="1305.5" width="72" height="51"/><text x="3339" y="1325.5">ε<tspan x="3339" dy="20">empty</tspan></text></g>
<g id="n206" class="b"><rect x="3399" y="1316" width="93" height="30"/><text x="3445.5" y="1336">VariMore</text></g>
<g id="n207" class="r"><rect x="3516.5" y="1305.5" width="72" height="51"/><text x="3552.5" y="1325.5">:=<tspan x="3552.5" dy="20">:=</tspan></text></g>
<g id="n208" class="b"><rect x="3612.5" y="1316" width="72" height="30"/><text x="3648.5" y="1336">Exp</text></g>
<g id="n209" class="r"><rect x="3736.5" y="1305.5" width="72" height="51"/><text x="3772.5" y="1325.5">ID<tspan x="3772.5" dy="20">sd</tspan></text></g>
<g id="n210" class="b"><rect x="3832.5" y="1316" width="80" height="30"/><text x="3872.5" y="1336">AssCall</text></g>
<g id="n211" class="r"><rect x="3947" y="1305.5" width="72" height="51"/><text x="3983" y="1325.5">;<tspan x="3983" dy="20">;</tspan></text></g>
<g id="n212" class="b"><rect x="4074" y="1316" width="80" height="30"/><text x="4114" y="1336">StmList</text></g>
<g id="n213" class="y"><rect x="1886" y="1405.5" width="72" height="51"/><text x="1922" y="1425.5">ε<tspan x="1922" dy="20">empty</tspan></text></g>
<g id="n214" class="b"><rect x="2725" y="1416" width="72" height="30"/><text x="2761" y="1436">Factor</text></g>
<g id="n215" class="b"><rect x="2820.5" y="1416" width="114" height="30"/><text x="2877.5" y="1436">OtherFactor</text></g>
<g id="n216" class="y"><rect x="2959.5" y="1405.5" width="72" height="51"/><text x="2995.5" y="1425.5">ε<tspan x="2995.5" dy="20">empty</tspan></text></g>
<g id="n217" class="b"><rect x="3063" y="1416" width="83" height="30"/><text x="3104.5" y="1436">Variable</text></g>
<g id="n218" class="y"><rect x="3186" y="1405.5" width="72" height="51"/><text x="3222" y="1425.5">ε<tspan x="3222" dy="20">empty</tspan></text></g>
<g id="n219" class="y"><rect x="3405.5" y="1405.5" width="72" height="51"/><text x="3441.5" y="1425.5">ε<tspan x="3441.5" dy="20">empty</tspan></text></g>
<g id="n220" class="b"><rect x="3502" y="1416" width="72" height="30"/><text x="3538" y="1436">Term</text></g>
<g id="n221" class="b"><rect x="3600" y="1416" width="105" height="30"/><text x="3652.5" y="1436">OtherTerm</text></g>
<g id="n222" class="b"><rect x="3815" y="1416" width="115" height="30"/><text x="3872.5" y="1436">CallStmRest</text></g>
<g id="n223" class="b"><rect x="4078" y="1416" width="72" height="30"/><text x="4114" y="1436">Stm</text></g>
<g id="n224" class="b"><rect x="4221.5" y="1416" width="92" height="30"/><text x="4267.5" y="1436">StmMore</text></g>
<g id="n225" class="b"><rect x="2720" y="1516" width="82" height="30"/><text x="2761" y="1536">Variable</text></g>
<g id="n226" class="y"><rect x="2842" y="1505.5" width="72" height="51"/><text x="2878" y="1525.5">ε<tspan x="2878" dy="20">empty</tspan></text></g>
<g id="n227" class="r"><rect x="3015.5" y="1505.5" width="72" height="51"/><text x="3051.5" y="1525.5">ID<tspan x="3051.5" dy="20">ss</tspan></text></g>
<g id="n228" class="b"><rect x="3111" y="1516" width="93" height="30"/><text x="3157.5" y="1536">VariMore</text></g>
<g id="n229" class="b"><rect x="3381.5" y="1516" width="72" height="30"/><text x="3417.5" y="1536">Factor</text></g>
<g id="n230" class="b"><rect x="3479.5" y="1516" width="114" height="30"/><text x="3536.5" y="1536">OtherFactor</text></g>
<g id="n231" class="y"><rect x="3617.5" y="1505.5" width="72" height="51"/><text x="3653.5" y="1525.5">ε<tspan x="3653.5" dy="20">empty</tspan></text></g>
<g id="n232" class="r"><rect x="3713.5" y="1505.5" width="72" height="51"/><text x="3749.5" y="1525.5">(<tspan x="3749.5" dy="20">(</tspan></text></g>
<g id="n233" class="b"><rect x="3810" y="1516" width="125" height="30"/><text x="3872.5" y="1536">ActParamList</text></g>
<g id="n234" class="r"><rect x="3959" y="1505.5" width="72" height="51"/><text x="3995" y="1525.5">)<tspan x="3995" dy="20">)</tspan></text></g>
<g id="n235" class="r"><rect x="4055.5" y="1505.5" width="72" height="51"/><text x="4091.5" y="1525.5">ID<tspan x="4091.5" dy="20">ss</tspan></text></g>
<g id="n236" class="b"><rect x="4152" y="1516" width="79" height="30"/><text x="4191.5" y="1536">AssCall</text></g>
<g id="n237" class="y"><rect x="4255.5" y="1505.5" width="72" height="51"/><text x="4291.5" y="1525.5">ε<tspan x="4291.5" dy="20">empty</tspan></text></g>
<g id="n238" class="r"><rect x="2671" y="1605.5" width="72" height="51"/><text x="2707" y="1625.5">ID<tspan x="2707" dy="20">ss</tspan></text></g>
<g id="n239" class="b"><rect x="2767" y="1616" width="94" height="30"/><text x="2814" y="1636">VariMore</text></g>
<g id="n240" class="y"><rect x="3122" y="1605.5" width="72" height="51"/><text x="3158" y="1625.5">ε<tspan x="3158" dy="20">empty</tspan></text></g>
<g id="n241" class="b"><rect x="3377" y="1616" width="84" height="30"/><text x="3419" y="1636">Variable</text></g>
<g id="n242" class="y"><rect x="3500.5" y="1605.5" width="72" height="51"/><text x="3536.5" y="1625.5">ε<tspan x="3536.5" dy="20">empty</tspan></text></g>
<g id="n243" class="b"><rect x="3807" y="1616" width="72" height="30"/><text x="3843" y="1636">Exp</text></g>
<g id="n244" class="b"><rect x="3903.5" y="1616" width="136" height="30"/><text x="3971.5" y="1636">ActParamMore</text></g>
<g id="n245" class="b"><rect x="4119.5" y="1616" width="143" height="30"/><text x="4191" y="1636">AssignmentRest</text></g>
<g id="n246" class="y"><rect x="2778" y="1705.5" width="72" height="51"/><text x="2814" y="1725.5">ε<tspan x="2814" dy="20">empty</tspan></text></g>
<g id="n247" class="r"><rect x="3280.5" y="1705.5" width="72" height="51"/><text x="3316.5" y="1725.5">ID<tspan x="3316.5" dy="20">y</tspan></text></g>
<g id="n248" class="b"><rect x="3376.5" y="1716" width="94" height="30"/><text x="3423.5" y="1736">VariMore</text></g>
<g id="n249" class="b"><rect x="3700.5" y="1716" width="72" height="30"/><text x="3736.5" y="1736">Term</text></g>
<g id="n250" class="b"><rect x="3799.5" y="1716" width="104" height="30"/><text x="3851.5" y="1736">OtherTerm</text></g>
<g id="n251" class="y"><rect x="3935.5" y="1705.5" width="72" height="51"/><text x="3971.5" y="1725.5">ε<tspan x="3971.5" dy="20">empty</tspan></text></g>
<g id="n252" class="b"><rect x="4037.5" y="1716" width="94" height="30"/><text x="4084.5" y="1736">VariMore</text></g>
<g id="n253" class="r"><rect x="4155.5" y="1705.5" width="72" height="51"/><text x="4191.5" y="1725.5">:=<tspan x="4191.5" dy="20">:=</tspan></text></g>
<g id="n254" class="b"><rect x="4251" y="1716" width="72" height="30"/><text x="4287" y="1736">Exp</text></g>
<g id="n255" class="r"><rect x="3291.5" y="1805.5" width="72" height="51"/><text x="3327.5" y="1825.5">[<tspan x="3327.5" dy="20">[</tspan></text></g>
<g id="n256" class="b"><rect x="3387.5" y="1816" width="72" height="30"/><text x="3423.5" y="1836">Exp</text></g>
<g id="n257" class="r"><rect x="3483.5" y="1805.5" width="72" height="51"/><text x="3519.5" y="1825.5">]<tspan x="3519.5" dy="20">]</tspan></text></g>
<g id="n258" class="b"><rect x="3583" y="1816" width="72" height="30"/><text x="3619" y="1836">Factor</text></g>
<g id="n259" class="b"><rect x="3679.5" y="1816" width="114" height="30"/><text x="3736.5" y="1836">OtherFactor</text></g>
<g id="n260" class="y"><rect x="3817.5" y="1805.5" width="72" height="51"/><text x="3853.5" y="1825.5">ε<tspan x="3853.5" dy="20">empty</tspan></text></g>
<g id="n261" class="y"><rect x="4049" y="1805.5" width="72" height="51"/><text x="4085" y="1825.5">ε<tspan x="4085" dy="20">empty</tspan></text></g>
<g id="n262" class="b"><rect x="4198" y="1816" width="72" height="30"/><text x="4234" y="1836">Term</text></g>
<g id="n263" class="b"><rect x="4301.5" y="1816" width="105" height="30"/><text x="4354" y="1836">OtherTerm</text></g>
<g id="n264" class="b"><rect x="3307.5" y="1916" width="72" height="30"/><text x="3343.5" y="1936">Term</text></g>
<g id="n265" class="b"><rect x="3406" y="1916" width="104" height="30"/><text x="3458" y="1936">OtherTerm</text></g>
<g id="n266" class="b"><rect x="3577.5" y="1916" width="83" height="30"/><text x="3619" y="1936">Variable</text></g>
<g id="n267" class="y"><rect x="3700.5" y="1905.5" width="72" height="51"/><text x="3736.5" y="1925.5">ε<tspan x="3736.5" dy="20">empty</tspan></text></g>
<g id="n268" class="b"><rect x="4081" y="1916" width="72" height="30"/><text x="4117" y="1936">Factor</text></g>
<g id="n269" class="b"><rect x="4177" y="1916" width="114" height="30"/><text x="4234" y="1936">OtherFactor</text></g>
<g id="n270" class="b"><rect x="4314.5" y="1916" width="79" height="30"/><text x="4354" y="1936">AddOp</text></g>
<g id="n271" class="b"><rect x="4418" y="1916" width="72" height="30"/><text x="4454" y="1936">Exp</text></g>
<g id="n272" class="b"><rect x="3190" y="2016" width="72" height="30"/><text x="3226" y="2036">Factor</text></g>
<g id="n273" class="b"><rect x="3286" y="2016" width="114" height="30"/><text x="3343" y="2036">OtherFactor</text></g>
<g id="n274" class="y"><rect x="3425" y="2005.5" width="72" height="51"/><text x="3461" y="2025.5">ε<tspan x="3461" dy="20">empty</tspan></text></g>
<g id="n275" class="r"><rect x="3551" y="2005.5" width="72" height="51"/><text x="3587" y="2025.5">ID<tspan x="3587" dy="20">x</tspan></text></g>
<g id="n276" class="b"><rect x="3647.5" y="2016" width="93" height="30"/><text x="3694" y="2036">VariMore</text></g>
<g id="n277" class="b"><rect x="4075" y="2016" width="83" height="30"/><text x="4116.5" y="2036">Variable</text></g>
<g id="n278" class="y"><rect x="4198.5" y="2005.5" width="72" height="51"/><text x="4234.5" y="2025.5">ε<tspan x="4234.5" dy="20">empty</tspan></text></g>
<g id="n279" class="r"><rect x="4317.5" y="2005.5" width="72" height="51"/><text x="4353.5" y="2025.5">+<tspan x="4353.5" dy="20">+</tspan></text></g>
<g id="n280" class="b"><rect x="4415" y="2016" width="72" height="30"/><text x="4451" y="2036">Term</text></g>
<g id="n281" class="b"><rect x="4514" y="2016" width="104" height="30"/><text x="4566" y="2036">OtherTerm</text></g>
<g id="n282" class="b"><rect x="3184.5" y="2116" width="83" height="30"/><text x="3226" y="2136">Variable</text></g>
<g id="n283" class="y"><rect x="3307.5" y="2105.5" width="72" height="51"/><text x="3343.5" y="2125.5">ε<tspan x="3343.5" dy="20">empty</tspan></text></g>
<g id="n284" class="y"><rect x="3658.5" y="2105.5" width="72" height="51"/><text x="3694.5" y="2125.5">ε<tspan x="3694.5" dy="20">empty</tspan></text></g>
<g id="n285" class="r"><rect x="4027" y="2105.5" width="72" height="51"/><text x="4063" y="2125.5">ID<tspan x="4063" dy="20">ss</tspan></text></g>
<g id="n286" class="b"><rect x="4123.5" y="2116" width="94" height="30"/><text x="4170.5" y="2136">VariMore</text></g>
<g id="n287" class="b"><rect x="4298" y="2116" width="72" height="30"/><text x="4334" y="2136">Factor</text></g>
<g id="n288" class="b"><rect x="4395" y="2116" width="114" height="30"/><text x="4452" y="2136">OtherFactor</text></g>
<g id="n289" class="y"><rect x="4532.5" y="2105.5" width="72" height="51"/><text x="4568.5" y="2125.5">ε<tspan x="4568.5" dy="20">empty</tspan></text></g>
<g id="n290" class="r"><rect x="3136.5" y="2205.5" width="72" height="51"/><text x="3172.5" y="2225.5">ID<tspan x="3172.5" dy="20">ss</tspan></text></g>
<g id="n291" class="b"><rect x="3232.5" y="2216" width="94" height="30"/><text x="3279.5" y="2236">VariMore</text></g>
<g id="n292" class="y"><rect x="4134" y="2205.5" width="72" height="51"/><text x="4170" y="2225.5">ε<tspan x="4170" dy="20">empty</tspan></text></g>
<g id="n293" class="r"><rect x="4298" y="2205.5" width="72" height="51"/><text x="4334" y="2225.5">INTC<tspan x="4334" dy="20">1</tspan></text></g>
<g id="n294" class="y"><rect x="4415.5" y="2205.5" width="72" height="51"/><text x="4451.5" y="2225.5">ε<tspan x="4451.5" dy="20">empty</tspan></text></g>
<g id="n295" class="y"><rect x="3243.5" y="2305.5" width="72" height="51"/><text x="3279.5" y="2325.5">ε<tspan x="3279.5" dy="20">empty</tspan></text></g>
</g>
</svg>
